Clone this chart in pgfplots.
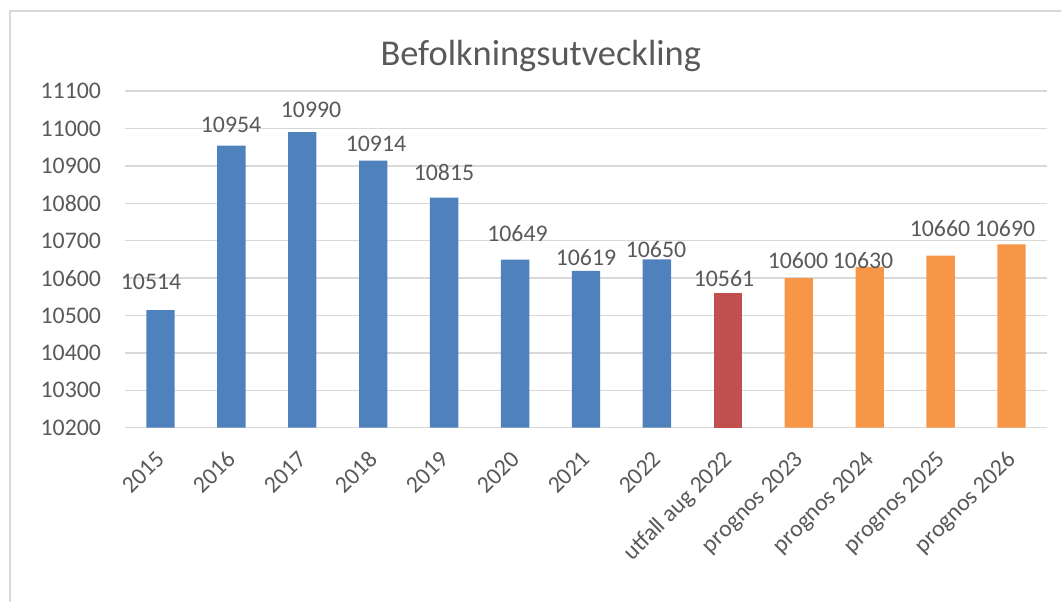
\documentclass[border=0pt]{standalone}
\usepackage{pgfplots}
\pgfplotsset{compat=1.18}
\usepackage{fontspec}
\setmainfont{Carlito}
\definecolor{txt}{HTML}{595959}
\definecolor{gridc}{HTML}{D9D9D9}
\definecolor{cblue}{HTML}{4F81BD}
\definecolor{cred}{HTML}{C0504D}
\definecolor{corange}{HTML}{F79646}
\newcommand{\lblfont}{\fontsize{11.9}{14}\selectfont}
\begin{document}
\begin{tikzpicture}
\useasboundingbox (0pt,0pt) rectangle (530.5pt,-300.5pt);
\draw[gridc, line width=0.75pt] (5pt,-310pt) -- (5pt,-5.6pt) -- (540pt,-5.6pt);
\node[txt, font=\fontsize{18.2}{20}\selectfont, anchor=base, inner sep=0pt] at (270.4pt,-32.5pt) {Befolkningsutveckling};
\begin{axis}[
  at={(62.5pt,-213.85pt)}, anchor=south west,
  scale only axis, width=461pt, height=168.35pt,
  xmin=-0.5, xmax=12.5, ymin=10200, ymax=11100,
  ytick={10200,10300,...,11100},
  scaled y ticks=false,
  xtick={0,...,12},
  xticklabels={2015,2016,2017,2018,2019,2020,2021,2022,utfall aug 2022,prognos 2023,prognos 2024,prognos 2025,prognos 2026},
  axis line style={draw=none},
  ymajorgrids, grid style={gridc, line width=0.75pt},
  major tick length=0pt,
  tick label style={txt, font=\lblfont},
  yticklabel style={xshift=-8.5pt, /pgf/number format/fixed, /pgf/number format/1000 sep={}},
  xticklabel style={xshift=2.9pt, yshift=-16.3pt, rotate=45, anchor=base east, inner sep=0pt},
  /pgf/number format/.cd, 1000 sep={}, assume math mode=true, /pgfplots/.cd,
  clip=false,
]
\addplot[ybar, bar width=0.4, bar shift=0pt, fill=cblue, draw=none]
  coordinates {(0,10514) (1,10954) (2,10990) (3,10914) (4,10815) (5,10649) (6,10619) (7,10650)};
\addplot[ybar, bar width=0.4, bar shift=0pt, fill=cred, draw=none]
  coordinates {(8,10561)};
\addplot[ybar, bar width=0.4, bar shift=0pt, fill=corange, draw=none]
  coordinates {(9,10600) (10,10630) (11,10660) (12,10690)};
% data labels, placed where the reference shows them
\addplot[draw=none, mark=none, nodes near coords, point meta=explicit symbolic,
  every node near coord/.style={txt, font=\lblfont, anchor=base, inner sep=0pt}]
  table[meta=lbl] {
x y lbl
-0.133 10570.7 10514
0.995 10988.5 10954
2.123 11029.7 10990
3.039 10939.6 10914
3.998 10860.2 10815
5.034 10697.2 10649
6.000 10634.9 10619
6.987 10655.5 10650
7.946 10576.9 10561
8.989 10626.1 10600
9.906 10626.1 10630
10.991 10710.5 10660
11.908 10710.5 10690
};
\end{axis}
\end{tikzpicture}
\end{document}
